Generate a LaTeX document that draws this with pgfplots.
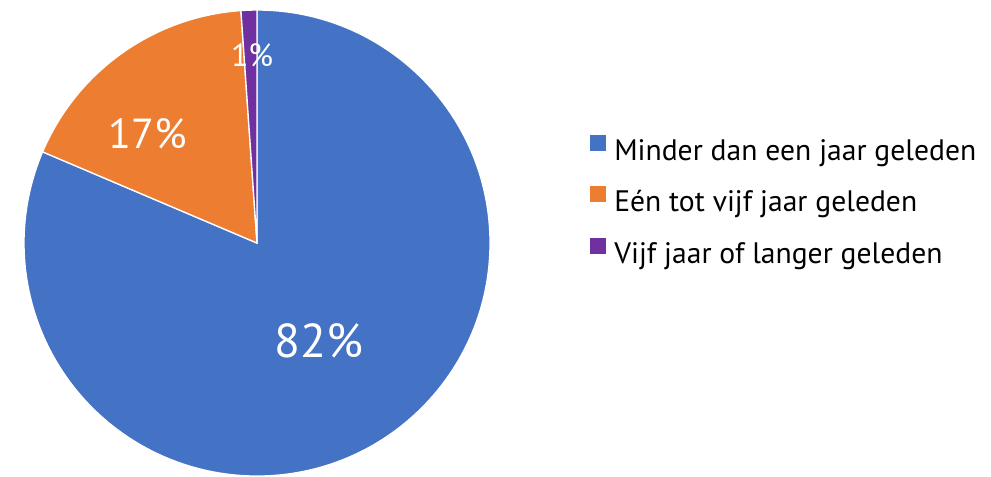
\documentclass[border=0pt]{standalone}
\usepackage{fontspec}
\setmainfont{PT Sans}
\usepackage{pgfplots}
\usepackage{pgfplotstable}
\pgfplotsset{compat=1.18}
\definecolor{cBlue}{HTML}{4472C4}
\definecolor{cOrange}{HTML}{ED7D31}
\definecolor{cPurple}{HTML}{7030A0}
\pgfplotstableread{
idx value
0 81.4
1 17.5
2 1.1
}\piedata
\pgfplotstablegetelem{0}{value}\of\piedata \let\vA\pgfplotsretval
\pgfplotstablegetelem{1}{value}\of\piedata \let\vB\pgfplotsretval
\pgfplotstablegetelem{2}{value}\of\piedata \let\vC\pgfplotsretval
\pgfmathsetmacro\aA{90}
\pgfmathsetmacro\aB{\aA-3.6*\vA}
\pgfmathsetmacro\aC{\aB-3.6*\vB}
\pgfmathsetmacro\aD{\aC-3.6*\vC}
\def\R{174.75pt}
\begin{document}
\begin{tikzpicture}
\begin{axis}[
  x=174.75pt, y=174.75pt,
  xmin=-1.103, xmax=3.150, ymin=-0.996, ymax=1.043,
  hide axis, clip=false,
  legend cell align=left,
  legend image code/.code={\fill[#1, draw=none] (0pt,0pt) rectangle (12pt,12pt);},
  legend style={at={(axis cs:1.429,0.184)}, anchor=west, draw=none, fill=none,
    inner sep=0pt, row sep=18pt, column sep=3pt,
    font=\fontsize{22.2}{26}\selectfont,
    nodes={inner xsep=3pt, inner ysep=0pt}},
]
\path (rel axis cs:0,0) rectangle (rel axis cs:1,1);
\addlegendimage{fill=cBlue}
\addlegendentry{Minder dan een jaar geleden}
\addlegendimage{fill=cOrange}
\addlegendentry{Eén tot vijf jaar geleden}
\addlegendimage{fill=cPurple}
\addlegendentry{Vijf jaar of langer geleden}
\filldraw[fill=cBlue, draw=white, line width=1pt] (axis cs:0,0) -- ++(\aA:\R) arc[start angle=\aA, end angle=\aB, radius=\R] -- cycle;
\filldraw[fill=cOrange, draw=white, line width=1pt] (axis cs:0,0) -- ++(\aB:\R) arc[start angle=\aB, end angle=\aC, radius=\R] -- cycle;
\filldraw[fill=cPurple, draw=white, line width=1pt] (axis cs:0,0) -- ++(\aC:\R) arc[start angle=\aC, end angle=\aD, radius=\R] -- cycle;
\node[white, font=\fontsize{35.7}{42}\selectfont] at (axis cs:0.264,-0.421) {82\%};
\node[white, font=\fontsize{31.5}{36}\selectfont] at (axis cs:-0.468,0.470) {17\%};
\node[white, font=\fontsize{24}{28}\selectfont] at (axis cs:-0.021,0.807) {1\%};
\end{axis}
\end{tikzpicture}
\end{document}
